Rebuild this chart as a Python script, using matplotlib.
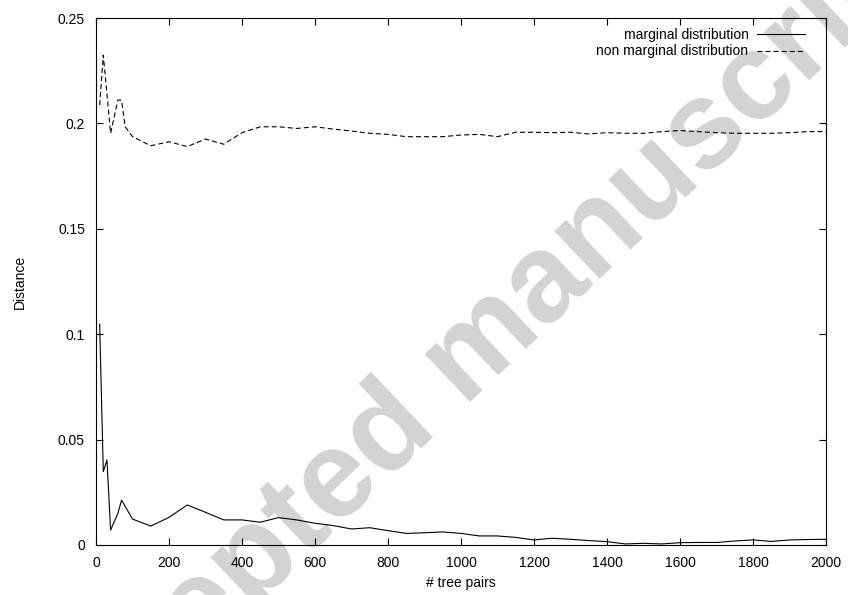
import matplotlib
matplotlib.use("Agg")
import matplotlib.pyplot as plt

plt.rcParams['font.family'] = ['Liberation Sans', 'DejaVu Sans']
plt.rcParams['lines.scale_dashes'] = False

tree_pairs = [10, 20, 30, 40, 60, 70, 80, 100, 150, 200, 250, 300, 350, 400, 450,
              500, 550, 600, 650, 700, 750, 800, 850, 900, 950, 1000, 1050, 1100,
              1150, 1200, 1250, 1300, 1350, 1400, 1450, 1500, 1550, 1600, 1650,
              1700, 1750, 1800, 1850, 1900, 1950, 2000]

marginal = [0.1048, 0.0348, 0.0403, 0.0071, 0.0150, 0.0213, 0.0183, 0.0123, 0.0090,
            0.0131, 0.0190, 0.0155, 0.0119, 0.0119, 0.0108, 0.0130, 0.0119, 0.0103,
            0.0092, 0.0076, 0.0082, 0.0068, 0.0055, 0.0058, 0.0062, 0.0055, 0.0043,
            0.0043, 0.0036, 0.0024, 0.0032, 0.0027, 0.0021, 0.0016, 0.0005, 0.0008,
            0.0005, 0.0011, 0.0012, 0.0012, 0.0019, 0.0024, 0.0017, 0.0024, 0.0026,
            0.0027]

non_marginal = [0.2087, 0.2324, 0.2140, 0.1953, 0.2111, 0.2110, 0.1984, 0.1937,
                0.1894, 0.1913, 0.1890, 0.1926, 0.1901, 0.1956, 0.1984, 0.1984,
                0.1976, 0.1984, 0.1973, 0.1964, 0.1953, 0.1948, 0.1937, 0.1937,
                0.1937, 0.1945, 0.1948, 0.1937, 0.1958, 0.1958, 0.1956, 0.1958,
                0.1950, 0.1956, 0.1953, 0.1953, 0.1961, 0.1966, 0.1961, 0.1956,
                0.1953, 0.1953, 0.1953, 0.1956, 0.1961, 0.1961]

x_ticks = [0, 200, 400, 600, 800, 1000, 1200, 1400, 1600, 1800, 2000]
y_ticks = [0, 0.05, 0.1, 0.15, 0.2, 0.25]
y_tick_labels = ['0', '0.05', '0.1', '0.15', '0.2', '0.25']

fig = plt.figure(figsize=(8.48, 5.95), dpi=100)

# watermark
fig.text(470/848, 1-358/595, 'Accepted manuscript', fontsize=89, fontweight='bold',
         color='#d3d3d3', rotation=43.5, ha='center', va='center',
         rotation_mode='anchor', zorder=-1)

ax = fig.add_axes([96/848, 1-545/595, (826-96)/848, (545-18)/595])
ax.patch.set_alpha(0)

ax.plot(tree_pairs, marginal, color='black', lw=0.8, label='marginal distribution')
ax.plot(tree_pairs, non_marginal, color='black', lw=0.8, dashes=(3.6, 2.2),
        label='non marginal distribution')

ax.set_xlim(0, 2000)
ax.set_ylim(0, 0.25)
ax.set_xticks(x_ticks)
ax.set_yticks(y_ticks)
ax.set_yticklabels(y_tick_labels)
ax.tick_params(direction='in', length=5, width=0.8, top=True, right=True,
               labelsize=10, pad=8)
for s in ax.spines.values():
    s.set_linewidth(0.8)

ax.set_xlabel('# tree pairs', fontsize=10, labelpad=4)
ax.set_ylabel('Distance', fontsize=10, labelpad=22)

ax.legend(loc='upper right', frameon=False, markerfirst=False, fontsize=10,
          handlelength=3.5, handletextpad=0.6, labelspacing=0.2,
          bbox_to_anchor=(0.985, 1.0), borderaxespad=0.3)

fig.savefig('out.png', dpi=100)
